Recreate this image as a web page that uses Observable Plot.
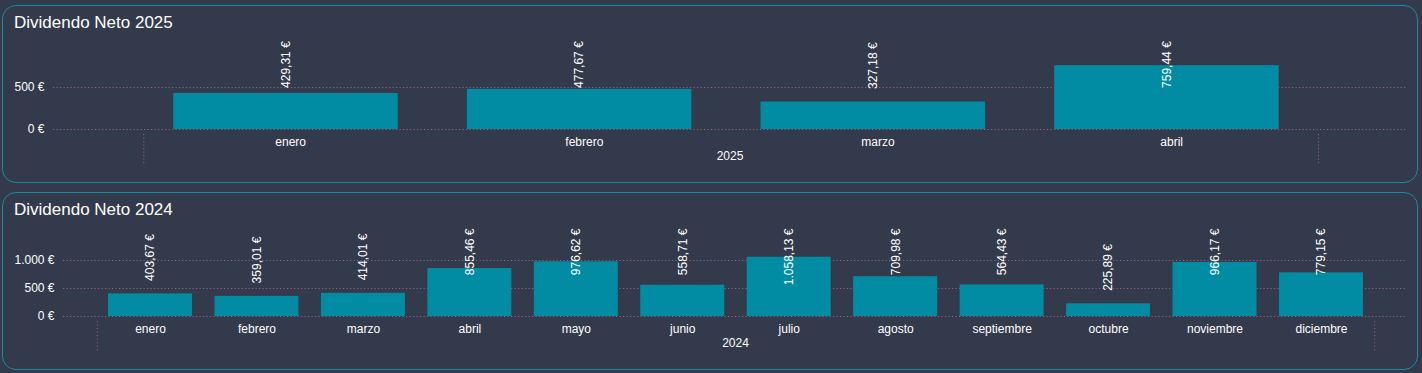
<!DOCTYPE html>
<html>
<head>
<meta charset="utf-8">
<script src="https://cdn.jsdelivr.net/npm/d3@7"></script>
<script src="https://cdn.jsdelivr.net/npm/@observablehq/plot@0.6"></script>
<style>
  html, body { margin: 0; padding: 0; }
  body { background: #333a4c; width: 1422px; height: 373px; overflow: hidden; position: relative;
         font-family: "Liberation Sans", Arial, sans-serif; }
  .card { position: absolute; left: 2px; width: 1416px; height: 178px; box-sizing: border-box;
          border: 1.5px solid #1c8a9d; border-radius: 14px; }
  .title { position: absolute; left: 14px; color: #ffffff; font-size: 17px; line-height: 17px; white-space: nowrap; }
  .chart { position: absolute; left: 0; }
</style>
</head>
<body>
<div class="card" style="top:5px"></div>
<div class="card" style="top:192px"></div>
<div class="title" style="top:13.5px">Dividendo Neto 2025</div>
<div class="title" style="top:200.5px">Dividendo Neto 2024</div>
<div id="c1" class="chart" style="top:0px"></div>
<div id="c2" class="chart" style="top:185px"></div>
<script>
// ---- data ----
const months2025 = ["enero", "febrero", "marzo", "abril"];
const values2025 = [429.31, 477.67, 327.18, 759.44];
const year2025 = "2025";
const ticks2025 = [0, 500];

const months2024 = ["enero", "febrero", "marzo", "abril", "mayo", "junio", "julio",
                    "agosto", "septiembre", "octubre", "noviembre", "diciembre"];
const values2024 = [403.67, 359.01, 414.01, 855.46, 976.62, 558.71, 1058.13,
                    709.98, 564.43, 225.89, 966.17, 779.15];
const year2024 = "2024";
const ticks2024 = [0, 500, 1000];

// ---- formatting ----
const loc = d3.formatLocale({decimal: ",", thousands: ".", grouping: [3], currency: ["", " €"]});
const fmtValue = loc.format("$,.2f");
const fmtTick = loc.format("$,.0f");

// ---- style ----
const BAR = "#028ca3";
const GRID = "#94607a";
const DASH = "1.2,2.3";
const FONT = "'Liberation Sans', Arial, sans-serif";

const canvas = document.createElement("canvas");
const ctx = canvas.getContext("2d");
ctx.font = "12px " + FONT;

function clampLabels(gap, clampTop) {
  return (index, scales, values, dims, context, next) => {
    const y = Array.from(values.y);
    for (const i of index) {
      const len = ctx.measureText(values.text[i]).width;
      let bottom = values.y[i] - gap;
      if (bottom - len < clampTop) bottom = clampTop + len;
      y[i] = bottom;
    }
    return next(index, scales, {...values, y}, dims, context);
  };
}

function makeChart(cfg) {
  const data = cfg.months.map((m, i) => ({month: m, value: cfg.values[i]}));
  const n = cfg.months.length;
  const step = (cfg.range[1] - cfg.range[0]) / n;
  const frameH = cfg.height - cfg.marginTop - cfg.marginBottom;
  return Plot.plot({
    width: 1422,
    height: cfg.height,
    marginTop: cfg.marginTop,
    marginBottom: cfg.marginBottom,
    marginLeft: cfg.marginLeft,
    marginRight: cfg.marginRight,
    style: {background: "transparent", color: "#ffffff", fontFamily: FONT, fontSize: "12px", overflow: "visible"},
    x: {domain: cfg.months, range: cfg.range, paddingInner: cfg.pad, paddingOuter: cfg.pad / 2, round: false, label: null},
    y: {domain: cfg.domain, label: null},
    marks: [
      Plot.ruleY(cfg.ticks, {stroke: GRID, strokeDasharray: DASH, strokeWidth: 1}),
      Plot.barY(data, {x: "month", y: "value", fill: BAR, dx: cfg.barDx}),
      Plot.axisY({ticks: cfg.ticks, tickSize: 0, tickPadding: 9, tickFormat: fmtTick, fontSize: 12,
                  fill: "#ffffff", label: null}),
      Plot.axisX({tickSize: 0, tickPadding: 7.5, fontSize: 12, fill: "#ffffff", label: null}),
      Plot.ruleX([cfg.months[0]], {dx: -step / 2, insetTop: frameH + 5, insetBottom: -35,
                                   stroke: GRID, strokeDasharray: DASH}),
      Plot.ruleX([cfg.months[n - 1]], {dx: step / 2, insetTop: frameH + 5, insetBottom: -35,
                                       stroke: GRID, strokeDasharray: DASH}),
      Plot.text([cfg.year], {text: d => d, frameAnchor: "bottom", dy: 26.5, lineAnchor: "middle",
                             fontSize: 12, fill: "#ffffff"}),
      Plot.text(data, {x: "month", y: "value", text: d => fmtValue(d.value), rotate: -90,
                       textAnchor: "start", lineAnchor: "middle", fontSize: 12, fill: "#ffffff",
                       dx: cfg.barDx, render: clampLabels(13, cfg.clampTop)})
    ]
  });
}

document.getElementById("c1").append(makeChart({
  months: months2025, values: values2025, year: year2025, ticks: ticks2025,
  height: 185, marginTop: 45, marginBottom: 56, marginLeft: 53, marginRight: 16,
  domain: [0, 1000], range: [143.3, 1318], pad: 0.2356, barDx: -4.7, clampTop: 40.7
}));

document.getElementById("c2").append(makeChart({
  months: months2024, values: values2024, year: year2024, ticks: ticks2024,
  height: 188, marginTop: 69.4, marginBottom: 57, marginLeft: 63, marginRight: 15,
  domain: [0, 1100], range: [96.8, 1374.2], pad: 0.211, barDx: 0, clampTop: 43
}));
</script>
</body>
</html>
